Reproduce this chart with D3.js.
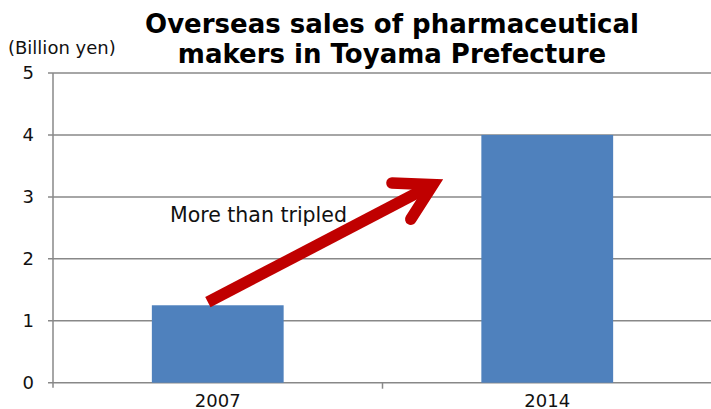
<!DOCTYPE html>
<html>
<head>
<meta charset="utf-8">
<script src="https://cdn.jsdelivr.net/npm/d3@7"></script>
<style>
  html, body { margin: 0; padding: 0; background: #fff; }
  svg { display: block; font-family: "DejaVu Sans", Verdana, sans-serif; }
</style>
</head>
<body>
<svg id="chart" width="711" height="409"></svg>
<script>
// Overseas sales (billion yen) by year
const years = ["2007", "2014"];
const sales = [1.25, 4.0];
const yTicks = [0, 1, 2, 3, 4, 5];
const titleLines = ["Overseas sales of pharmaceutical", "makers in Toyama Prefecture"];
const unitLabel = "(Billion yen)";
const noteText = "More than tripled";
// Annotation arrow, in data units: [offset in bands from the first year's centre, value]
const arrowFrom = [-0.03, 1.30];
const arrowTo = [0.653, 3.197];

(function () {
  const svg = d3.select("#chart");
  const W = 711;
  const plotLeft = 53, plotTop = 73, plotW = 659;
  const y0 = 382.7;

  const x = d3.scaleBand().domain(years).range([plotLeft, plotLeft + plotW]).padding(0);
  const y = d3.scaleLinear().domain([0, 5]).range([y0, plotTop]);

  const gridColor = "#888888";

  // Horizontal gridlines
  svg.append("g")
    .selectAll("line")
    .data(yTicks)
    .join("line")
    .attr("x1", plotLeft - 5)
    .attr("x2", W)
    .attr("y1", d => y(d))
    .attr("y2", d => y(d))
    .attr("stroke", gridColor)
    .attr("stroke-width", 1.5);

  // Y axis line
  svg.append("line")
    .attr("x1", plotLeft).attr("x2", plotLeft)
    .attr("y1", y(5)).attr("y2", y0 + 5)
    .attr("stroke", gridColor).attr("stroke-width", 1.5);

  // Category separator tick on the x axis
  svg.append("g")
    .selectAll("line")
    .data(years.slice(1))
    .join("line")
    .attr("x1", d => x(d)).attr("x2", d => x(d))
    .attr("y1", y0).attr("y2", y0 + 6)
    .attr("stroke", gridColor).attr("stroke-width", 1.5);

  // Y tick labels
  svg.append("g")
    .selectAll("text")
    .data(yTicks)
    .join("text")
    .attr("x", 34)
    .attr("y", d => y(d))
    .attr("dy", "0.36em")
    .attr("text-anchor", "end")
    .attr("font-size", 18)
    .attr("fill", "#111")
    .text(d => d);

  // Bars
  const barW = x.bandwidth() * 0.4;
  svg.append("g")
    .selectAll("rect")
    .data(years.map((yr, i) => ({ yr, v: sales[i] })))
    .join("rect")
    .attr("x", d => x(d.yr) + x.bandwidth() / 2 - barW / 2)
    .attr("width", barW)
    .attr("y", d => y(d.v))
    .attr("height", d => y0 - y(d.v))
    .attr("fill", "#4F81BD");

  // X labels
  svg.append("g")
    .selectAll("text")
    .data(years)
    .join("text")
    .attr("x", d => x(d) + x.bandwidth() / 2)
    .attr("y", 407)
    .attr("text-anchor", "middle")
    .attr("font-size", 18)
    .attr("fill", "#111")
    .text(d => d);

  // Unit label
  svg.append("text")
    .attr("x", 8).attr("y", 54)
    .attr("font-size", 18)
    .attr("fill", "#111")
    .text(unitLabel);

  // Title
  const title = svg.append("text")
    .attr("text-anchor", "middle")
    .attr("font-weight", "bold")
    .attr("font-size", 26)
    .attr("fill", "#000");
  titleLines.forEach((t, i) => {
    title.append("tspan").attr("x", 392).attr("y", 33 + i * 30).text(t);
  });

  // Annotation text
  svg.append("text")
    .attr("x", 170).attr("y", 222)
    .attr("font-size", 20.5)
    .attr("fill", "#111")
    .text(noteText);

  // Annotation arrow
  const centre0 = x(years[0]) + x.bandwidth() / 2;
  const step = x.bandwidth();
  const px = p => centre0 + p[0] * step;
  const py = p => y(p[1]);
  const x1 = px(arrowFrom), y1 = py(arrowFrom), x2 = px(arrowTo), y2 = py(arrowTo);
  const ang = Math.atan2(y2 - y1, x2 - x1);
  const headLen = 41, headAng = 0.52;
  const red = "#C00000";
  const sw = 11.5;
  svg.append("line")
    .attr("x1", x1).attr("y1", y1)
    .attr("x2", x2).attr("y2", y2)
    .attr("stroke", red).attr("stroke-width", sw);
  const wing = s => [x2 - headLen * Math.cos(ang + s * headAng), y2 - headLen * Math.sin(ang + s * headAng)];
  const w1 = wing(1), w2 = wing(-1);
  svg.append("path")
    .attr("d", `M${w1[0]},${w1[1]} L${x2},${y2} L${w2[0]},${w2[1]}`)
    .attr("fill", "none")
    .attr("stroke", red)
    .attr("stroke-width", sw)
    .attr("stroke-linecap", "round")
    .attr("stroke-linejoin", "miter")
    .attr("stroke-miterlimit", 10);
})();
</script>
</body>
</html>
